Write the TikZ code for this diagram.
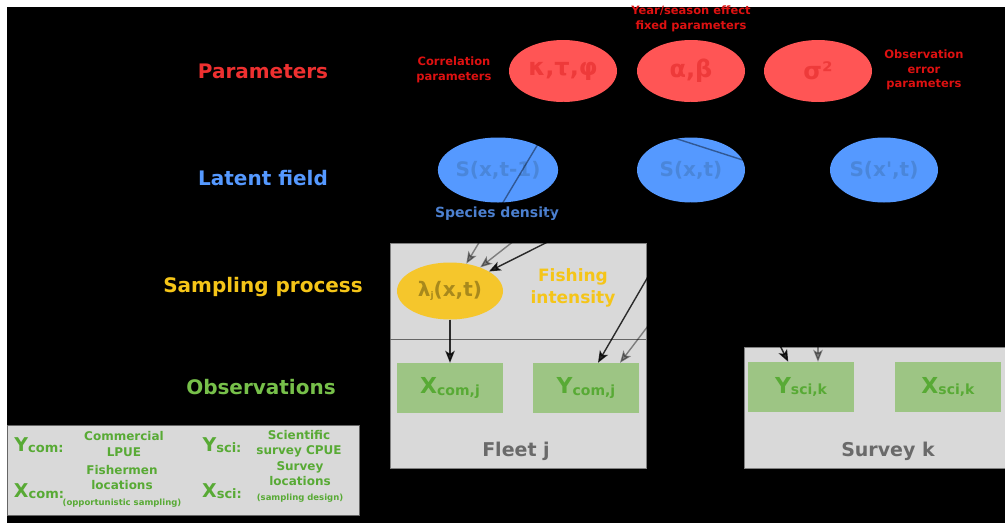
\documentclass[tikz,border=0pt]{standalone}
\usepackage{fontspec}
\setmainfont{DejaVu Sans}[Ligatures=TeXOff]
\usetikzlibrary{shapes.geometric,arrows.meta}
\definecolor{parred}{HTML}{FF5555}
\definecolor{partext}{HTML}{EE3A3A}
\definecolor{titred}{HTML}{EE3030}
\definecolor{notered}{HTML}{DD1111}
\definecolor{fieldblue}{HTML}{5599FF}
\definecolor{fieldtext}{HTML}{4A86DA}
\definecolor{densblue}{HTML}{4C80D0}
\definecolor{sampyel}{HTML}{F5C62C}
\definecolor{lamtext}{HTML}{A8891C}
\definecolor{tityel}{HTML}{F5C518}
\definecolor{obsgreen}{HTML}{9DC584}
\definecolor{obstext}{HTML}{58AA35}
\definecolor{titgreen}{HTML}{77C04A}
\definecolor{groupgray}{HTML}{D9D9D9}
\definecolor{grouptext}{HTML}{6A6A6A}
\newcommand{\fsz}[1]{\fontsize{#1}{\fpeval{1.28*#1}}\selectfont}
\newcommand{\obsvar}[2]{{\fsz{22}#1}\raisebox{-1.5pt}{\fsz{14}#2}}
\newcommand{\keyvar}[2]{{\fsz{19}#1}\raisebox{-1pt}{\fsz{13}#2}}

\tikzset{
	rowlabel/.style={font=\bfseries\fsz{20}},
	param/.style={ellipse,fill=parred,text=partext,inner sep=0pt,
		minimum width=108pt,minimum height=62pt,font=\bfseries\fsz{24}},
	field/.style={ellipse,fill=fieldblue,text=fieldtext,inner sep=0pt,
		minimum width=108pt,minimum height=65pt,font=\bfseries\fsz{20}},
	obsbox/.style={rectangle,fill=obsgreen,text=obstext,inner sep=0pt,
		minimum width=106pt,minimum height=50pt,font=\bfseries},
	note/.style={text=notered,align=center,font=\bfseries\fsz{11.5}},
	keytext/.style={text=obstext,align=center,font=\bfseries\fsz{12}},
	strong/.style={-{Stealth[length=12pt,width=9.5pt,inset=3pt]},line width=1.4pt,opacity=0.8},
	faint/.style={-{Stealth[length=12pt,width=9.5pt,inset=3pt]},line width=1.4pt,opacity=0.42}
}

\begin{document}
\begin{tikzpicture}[x=1pt,y=-1pt]
	\useasboundingbox (0,0) rectangle (1005,523);
	\fill[white] (0,0) rectangle (1005,523);
	\fill[black] (7,7) rectangle (1005,523);

	% levels of the model
	\node[rowlabel,text=titred] (lvlpar) at (263,71) {Parameters};
	\node[rowlabel,text=fieldblue] (lvlfield) at (263,178) {Latent field};
	\node[rowlabel,text=tityel] (lvlsamp) at (263,287) {Sampling process};
	\node[rowlabel,text=titgreen] (lvlobs) at (261,387) {Observations};

	% parameters
	\node[param] (kap) at (563,71) {κ,τ,φ};
	\node[param] (ab) at (691,71) {α,β};
	\node[param] (sig) at (818,71) {σ²};
	\node[note] (corrnote) at (454,70) {Correlation\\parameters};
	\node[note] (yearnote) at (691,19) {Year/season effect\\fixed parameters};
	\node[note] (errnote) at (924,70) {Observation\\error\\parameters};

	% latent field
	\node[field] (Sprev) at (498,170) {S(x,t-1)};
	\node[field] (Sxt) at (691,170) {S(x,t)};
	\node[field] (Sxpt) at (884,170) {S(x',t)};
	\node[text=densblue,font=\bfseries\fsz{14}] (dens) at (497,214) {Species density};

	% fleet and survey
	\draw[fill=groupgray,draw=gray] (390,243) rectangle (646,468);
	\draw[gray!80!black] (390,339) -- (646,339);
	\draw[fill=groupgray,draw=gray] (744,347) rectangle (1010,468);
	\node[ellipse,fill=sampyel,text=lamtext,inner sep=0pt,minimum width=106pt,
		minimum height=57pt,font=\bfseries\fsz{20}] (lam) at (450,291)
		{λ\raisebox{-2pt}{\fsz{9}j}(x,t)};
	\node[text=tityel,align=center,font=\bfseries\fsz{17}] (fint) at (573,288)
		{Fishing\\intensity};
	\node[obsbox] (Xcom) at (450,388) {\obsvar{X}{com,j}};
	\node[obsbox] (Ycom) at (586,388) {\obsvar{Y}{com,j}};
	\node[obsbox] (Ysci) at (801,387) {\obsvar{Y}{sci,k}};
	\node[obsbox] (Xsci) at (948,387) {\obsvar{X}{sci,k}};
	\node[text=grouptext,font=\bfseries\fsz{19}] (fleet) at (516,451) {Fleet j};
	\node[text=grouptext,font=\bfseries\fsz{19}] (survey) at (888,451) {Survey k};

	% links
	\draw[faint] (kap.south) -- (lam);
	\draw[faint] (ab.south) -- (lam);
	\draw[strong] (Sxt) -- (lam);
	\draw[faint] (kap.south) -- (Sxpt.south west);
	\draw[strong] (lam) -- (Xcom);
	\draw[strong] (Sxt.south) -- ([xshift=12pt]Ycom.north);
	\draw[faint] (sig.south) -- ([xshift=34pt]Ycom.north);
	\draw[strong] (Sxt) -- (Ysci);
	\draw[faint] (sig.south) -- (sig.south |- Ysci.north);

	% key
	\draw[fill=groupgray,draw=gray!80!black] (7,425) rectangle (359,515);
	\node[text=obstext,font=\bfseries] (kYcom) at (39,445) {\keyvar{Y}{com:}};
	\node[keytext] (kYcomtxt) at (124,444) {Commercial\\LPUE};
	\node[text=obstext,font=\bfseries] (kYsci) at (222,445) {\keyvar{Y}{sci:}};
	\node[keytext] (kYscitxt) at (299,444) {Scientific\\survey CPUE};
	\node[text=obstext,font=\bfseries] (kXcom) at (39,491) {\keyvar{X}{com:}};
	\node[keytext] (kXcomtxt) at (122,486)
		{Fishermen\\locations\\{\fsz{8.5}(opportunistic sampling)}};
	\node[text=obstext,font=\bfseries] (kXsci) at (222,491) {\keyvar{X}{sci:}};
	\node[keytext] (kXscitxt) at (300,482)
		{Survey\\locations\\{\fsz{8.5}(sampling design)}};
\end{tikzpicture}
\end{document}
